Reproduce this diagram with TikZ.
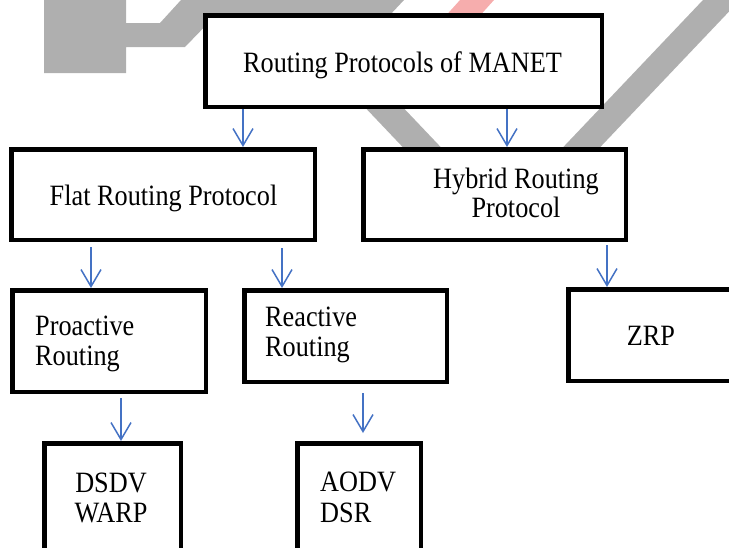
\documentclass[tikz,border=0pt]{standalone}
\usepackage{fontspec}
\setmainfont[FakeStretch=0.89]{Liberation Serif}
\usetikzlibrary{arrows.meta,calc}
\definecolor{wmgray}{RGB}{175,175,175}
\definecolor{wmpink}{RGB}{246,173,173}
\definecolor{arrowblue}{RGB}{68,114,196}
\begin{document}
\begin{tikzpicture}[x=1pt,y=-1pt,
  box/.style={draw=black, line width=4.5pt, fill=white, rectangle, inner sep=0pt},
  txt/.style={font=\fontsize{29.5}{31}\selectfont, inner sep=0pt, anchor=base},
  ltxt/.style={txt, anchor=base west},
  arr/.style={draw=arrowblue, line width=1.5pt, -{Straight Barb[length=17pt,width=20pt]}}]
\useasboundingbox (0,0) rectangle (729,547);
\clip (0,0) rectangle (729,547);

% background watermark shapes
\fill[wmgray] (44,0) -- (44,73) -- (126,73) -- (126,47) -- (185,47) -- (215,16)
  -- (389,16) -- (404,0) -- (181,0) -- (160,23) -- (126,23) -- (126,0) -- cycle;
\fill[wmgray] (320,60) -- (358,60) -- (491,200) -- (453,200) -- cycle;
\fill[wmgray] (703,0) -- (740,0) -- (550,200) -- (513,200) -- cycle;
\fill[wmpink] (460,0) -- (494,0) -- (476,20) -- (442,20) -- cycle;

% boxes
\node[box, minimum width=396.5pt, minimum height=91.5pt] (top) at (403.5,61) {};
\node[box, minimum width=303.5pt, minimum height=90.5pt] (flat) at (163,194.5) {};
\node[box, minimum width=262.5pt, minimum height=90.5pt] (hybrid) at (494.5,194.5) {};
\node[box, minimum width=193.5pt, minimum height=101.5pt] (proactive) at (109,341) {};
\node[box, minimum width=202.5pt, minimum height=91.5pt] (reactive) at (345.5,336) {};
\node[box, minimum width=209.5pt, minimum height=91.5pt] (zrp) at (673,335) {};
\node[box, minimum width=136.5pt, minimum height=154.5pt] (dsdv) at (112.5,520.5) {};
\node[box, minimum width=123.5pt, minimum height=154.5pt] (aodv) at (359,520.5) {};

% labels
\node[txt] (topL) at (402.5,72) {Routing Protocols of MANET};
\node[txt] (flatL) at (163.5,205) {Flat Routing Protocol};
\node[txt] (hybL1) at (516,188) {Hybrid Routing};
\node[txt] (hybL2) at (516,217) {Protocol};
\node[ltxt] (proL1) at (35,335) {Proactive};
\node[ltxt] (proL2) at (35,365) {Routing};
\node[ltxt] (reaL1) at (265,326) {Reactive};
\node[ltxt] (reaL2) at (265,356) {Routing};
\node[txt] (zrpL) at (651,345) {ZRP};
\node[txt] (dsdvL1) at (111,492) {DSDV};
\node[txt] (dsdvL2) at (111,522) {WARP};
\node[ltxt] (aodvL1) at (320,491) {AODV};
\node[ltxt] (aodvL2) at (320,522) {DSR};

% connectors
\draw[arr] ([xshift=-160.5pt]top.south) coordinate (a1) -- (a1 |- flat.north);
\draw[arr] ([xshift=103.5pt]top.south) coordinate (a2) -- (a2 |- hybrid.north);
\draw[arr] ([xshift=-72pt,yshift=-5pt]flat.south) coordinate (a3) -- (a3 |- proactive.north);
\draw[arr] ([xshift=119pt,yshift=-6pt]flat.south) coordinate (a4) -- (a4 |- reactive.north);
\draw[arr] ([xshift=112.5pt,yshift=-3pt]hybrid.south) coordinate (a5) -- (a5 |- zrp.north);
\draw[arr] ([xshift=12pt,yshift=-4pt]proactive.south) coordinate (a6) -- (a6 |- dsdv.north);
\draw[arr] ([xshift=17.5pt,yshift=-9pt]reactive.south) coordinate (a7) -- ($(a7 |- aodv.north)+(0,-8)$);
\end{tikzpicture}
\end{document}
